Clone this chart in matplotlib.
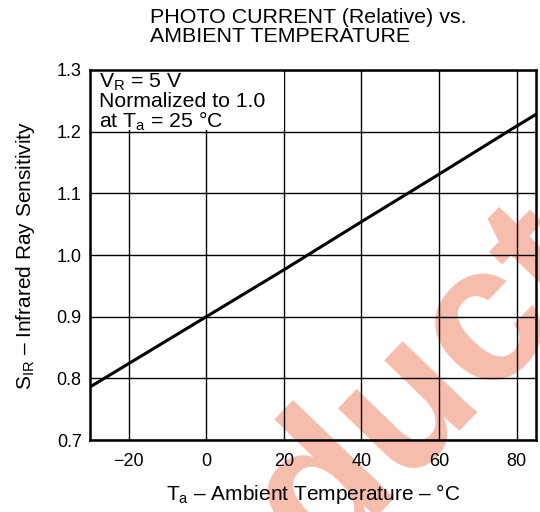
import matplotlib
matplotlib.use('Agg')
from matplotlib import pyplot as plt
from matplotlib.patches import Rectangle

# data
temps = [-30, -20, 0, 20, 40, 60, 80, 85]
sens = [0.786, 0.824, 0.900, 0.976, 1.054, 1.131, 1.209, 1.228]

x_ticks = [-20, 0, 20, 40, 60, 80]
y_ticks = [0.7, 0.8, 0.9, 1.0, 1.1, 1.2, 1.3]

plt.rcParams['font.family'] = ['Liberation Sans', 'DejaVu Sans']
plt.rcParams['mathtext.fontset'] = 'custom'
plt.rcParams['mathtext.rm'] = 'Liberation Sans'

fig = plt.figure(figsize=(5.4, 5.12), dpi=100)
ax = fig.add_axes([0.1667, 0.1406, 0.8259, 0.7227])
ax.set_facecolor('none')

# watermark behind the chart
fig.text(0.172, -0.557, 'Product', fontsize=140, fontweight='bold',
         color='#f6bcac', rotation=46, rotation_mode='anchor',
         ha='left', va='baseline', zorder=-5)

ax.plot(temps, sens, color='black', lw=2.2, zorder=4)

ax.set_xlim(-30, 85)
ax.set_ylim(0.7, 1.3)
ax.set_xticks(x_ticks)
ax.set_xticklabels(['\u221220', '0', '20', '40', '60', '80'])
ax.set_yticks(y_ticks)
ax.set_yticklabels(['%.1f' % v for v in y_ticks])
ax.grid(True, color='black', lw=1.0, zorder=1)
ax.tick_params(axis='both', length=0, labelsize=13)
ax.tick_params(axis='x', pad=9)
ax.tick_params(axis='y', pad=6)
for s in ax.spines.values():
    s.set_linewidth(1.8)

# white box for the conditions note
ax.add_patch(Rectangle((-30, 1.203), 50, 0.1, facecolor='white',
                       edgecolor='none', zorder=2))
ax.text(-27.8, 1.297,
        'V$_\\mathregular{R}$ = 5 V\nNormalized to 1.0\nat T$_\\mathregular{a}$ = 25 \u00b0C',
        fontsize=15.3, va='top', ha='left', linespacing=0.9, zorder=3)

ax.set_xlabel('T$_\\mathregular{a}$ \u2013 Ambient Temperature \u2013 \u00b0C',
              fontsize=15, labelpad=9)
ax.set_ylabel('S$_\\mathregular{IR}$ \u2013 Infrared Ray Sensitivity',
              fontsize=15, labelpad=14)

fig.text(0.278, 0.985, 'PHOTO CURRENT (Relative) vs.\nAMBIENT TEMPERATURE',
         fontsize=15.4, ha='left', va='top', linespacing=1.05)

fig.savefig('out.png', dpi=100, facecolor='white')
